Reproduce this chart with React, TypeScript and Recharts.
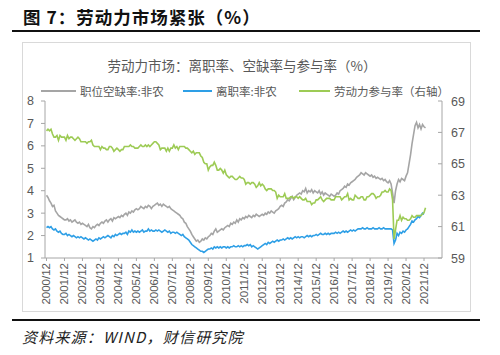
import React from 'react';
import { LineChart, Line, XAxis, YAxis } from 'recharts';

// Monthly series, first point = 2000/12
const vacancyRate = [
  3.8,
  3.7, 3.55, 3.45, 3.3, 3.35, 3.1, 3.0, 2.9, 2.85, 2.8, 2.75, 2.7,
  2.7, 2.75, 2.65, 2.7, 2.6, 2.65, 2.7, 2.6, 2.55, 2.6, 2.5, 2.55,
  2.5, 2.45, 2.4, 2.5, 2.35, 2.3, 2.4, 2.35, 2.45, 2.5, 2.45, 2.55,
  2.6, 2.55, 2.65, 2.7, 2.6, 2.7, 2.75, 2.65, 2.8, 2.75, 2.8, 2.85,
  2.8, 2.9, 2.85, 2.95, 3.0, 2.9, 3.05, 3.0, 3.1, 3.05, 3.15, 3.2,
  3.15, 3.2, 3.3, 3.25, 3.2, 3.3, 3.25, 3.35, 3.3, 3.2, 3.3, 3.35,
  3.4, 3.45, 3.35, 3.4, 3.3, 3.4, 3.35, 3.3, 3.25, 3.3, 3.2, 3.15,
  3.1, 3.05, 3.0, 2.95, 2.9, 2.8, 2.75, 2.6, 2.55, 2.4, 2.3, 2.2,
  2.05, 1.95, 1.85, 1.75, 1.8, 1.7, 1.75, 1.85, 1.8, 1.9, 1.85, 1.95,
  2.0, 2.1, 2.05, 2.2, 2.3, 2.15, 2.2, 2.25, 2.3, 2.25, 2.35, 2.4,
  2.45, 2.4, 2.55, 2.5, 2.6, 2.55, 2.7, 2.6, 2.75, 2.7, 2.8, 2.75,
  2.85, 2.8, 2.9, 2.85, 2.8, 2.9, 2.85, 2.95, 2.9, 2.85, 2.9, 2.95,
  2.9, 3.0, 2.95, 3.05, 3.0, 3.1, 3.05, 3.0, 3.1, 3.15, 3.2, 3.3,
  3.35, 3.3, 3.45, 3.5, 3.6, 3.55, 3.65, 3.75, 3.6, 3.7, 3.8, 3.85,
  3.9, 3.85, 4.0, 3.95, 4.1, 3.9, 4.0, 3.95, 4.05, 3.9, 4.0, 3.95,
  3.9, 4.0, 3.85, 3.95, 3.8, 3.9, 3.85, 3.8, 3.75, 3.85, 3.8, 3.75,
  3.8, 3.9, 3.85, 4.0, 4.05, 4.1, 4.2, 4.15, 4.3, 4.25, 4.35, 4.4,
  4.45, 4.5, 4.6, 4.65, 4.7, 4.8, 4.75, 4.7, 4.8, 4.75, 4.7, 4.65,
  4.7, 4.6, 4.65, 4.55, 4.6, 4.55, 4.5, 4.55, 4.45, 4.5, 4.4, 4.35,
  4.45, 4.3, 3.9, 3.45, 4.0, 4.3, 4.5, 4.4, 4.55, 4.5, 4.45, 4.65,
  4.8, 5.2, 5.6, 6.1, 6.5, 6.9, 7.05, 6.8, 6.95, 6.75, 6.95, 6.85,
  6.8,
];

const quitRate = [
  2.35,
  2.4, 2.35, 2.4, 2.3, 2.25, 2.3, 2.2, 2.15, 2.2, 2.1, 2.05, 2.05,
  2.1, 2.0, 2.05, 2.0, 1.95, 2.0, 1.95, 1.9, 1.95, 1.9, 1.95, 1.9,
  1.85, 1.9, 1.85, 1.8, 1.85, 1.8, 1.75, 1.8, 1.85, 1.8, 1.9, 1.85,
  1.9, 1.95, 1.9, 1.95, 2.0, 1.95, 1.9, 2.0, 1.95, 2.05, 2.0, 2.05,
  2.1, 2.05, 2.1, 2.1, 2.15, 2.05, 2.2, 2.15, 2.25, 2.15, 2.2, 2.15,
  2.2, 2.15, 2.2, 2.25, 2.15, 2.2, 2.2, 2.3, 2.2, 2.25, 2.2, 2.2,
  2.25, 2.2, 2.25, 2.2, 2.15, 2.2, 2.25, 2.2, 2.15, 2.2, 2.1, 2.15,
  2.15, 2.1, 2.15, 2.1, 2.05, 2.0, 2.05, 1.95, 1.9, 1.85, 1.8, 1.7,
  1.6, 1.55, 1.5, 1.45, 1.4, 1.35, 1.3, 1.3, 1.25, 1.3, 1.35, 1.4,
  1.4, 1.45, 1.4, 1.5, 1.45, 1.5, 1.45, 1.5, 1.45, 1.5, 1.5, 1.45,
  1.5, 1.45, 1.5, 1.5, 1.55, 1.5, 1.5, 1.55, 1.5, 1.55, 1.5, 1.55,
  1.55, 1.6, 1.55, 1.6, 1.5, 1.55, 1.5, 1.45, 1.4, 1.45, 1.5, 1.55,
  1.6, 1.65, 1.6, 1.7, 1.65, 1.7, 1.75, 1.7, 1.75, 1.8, 1.75, 1.8,
  1.8, 1.85, 1.8, 1.85, 1.9, 1.85, 1.9, 1.85, 1.9, 1.95, 1.9, 1.95,
  1.9, 1.95, 1.95, 1.9, 1.95, 2.0, 1.95, 2.0, 1.95, 2.0, 2.0, 2.05,
  2.0, 2.05, 2.1, 2.05, 2.05, 2.1, 2.05, 2.1, 2.05, 2.1, 2.1, 2.1,
  2.15, 2.1, 2.15, 2.1, 2.15, 2.2, 2.15, 2.2, 2.15, 2.2, 2.25, 2.2,
  2.25, 2.2, 2.25, 2.3, 2.3, 2.3, 2.35, 2.3, 2.3, 2.35, 2.3, 2.3,
  2.3, 2.35, 2.3, 2.3, 2.3, 2.35, 2.3, 2.3, 2.35, 2.3, 2.3, 2.3,
  2.3, 2.3, 2.25, 1.65, 1.8, 2.1, 2.0, 2.15, 2.1, 2.2, 2.15, 2.25,
  2.3, 2.4, 2.5, 2.65, 2.6, 2.7, 2.75, 2.85, 2.8, 2.9, 3.0, 2.95,
];

const participationRate = [
  67.1,
  67.2, 67.1, 67.2, 66.9, 66.7, 66.7, 66.8, 66.5, 66.8, 66.7, 66.7, 66.7,
  66.5, 66.8, 66.6, 66.7, 66.7, 66.6, 66.5, 66.6, 66.7, 66.6, 66.4, 66.4,
  66.4, 66.4, 66.3, 66.4, 66.4, 66.5, 66.2, 66.1, 66.1, 66.1, 66.1, 65.9,
  66.1, 66.0, 66.0, 65.9, 65.9, 66.1, 66.1, 66.0, 65.8, 65.9, 66.0, 65.9,
  65.8, 65.9, 65.9, 66.1, 66.1, 66.1, 66.1, 66.2, 66.1, 66.1, 66.0, 66.0,
  66.0, 66.1, 66.2, 66.1, 66.1, 66.2, 66.1, 66.2, 66.1, 66.2, 66.3, 66.4,
  66.4, 66.3, 66.2, 65.9, 66.0, 66.0, 66.0, 65.8, 66.0, 65.8, 66.0, 66.0,
  66.2, 66.0, 66.1, 65.9, 66.1, 66.1, 66.1, 66.1, 66.0, 66.0, 65.9, 65.8,
  65.7, 65.8, 65.6, 65.7, 65.7, 65.7, 65.5, 65.4, 65.1, 65.0, 65.0, 64.6,
  64.8, 64.9, 64.9, 65.1, 64.9, 64.6, 64.6, 64.7, 64.6, 64.4, 64.6, 64.3,
  64.2, 64.1, 64.2, 64.2, 64.1, 64.0, 64.0, 64.1, 64.2, 64.1, 64.1, 64.0,
  63.7, 63.8, 63.8, 63.7, 63.8, 63.8, 63.7, 63.5, 63.6, 63.8, 63.6, 63.7,
  63.6, 63.4, 63.3, 63.4, 63.4, 63.4, 63.3, 63.3, 63.2, 62.8, 63.0, 62.9,
  62.9, 62.9, 63.1, 62.8, 62.8, 62.8, 62.9, 62.9, 62.8, 62.9, 62.9, 62.8,
  62.9, 62.8, 62.7, 62.7, 62.8, 62.6, 62.6, 62.6, 62.4, 62.5, 62.5, 62.7,
  62.7, 62.8, 62.9, 62.7, 62.6, 62.7, 62.8, 62.8, 62.8, 62.7, 62.7, 62.7,
  62.9, 62.9, 62.9, 62.9, 62.7, 62.8, 62.9, 62.9, 63.1, 62.7, 62.8, 62.7,
  62.7, 63.0, 62.9, 62.8, 62.8, 62.9, 62.9, 62.7, 62.7, 62.9, 62.9, 63.0,
  63.1, 63.1, 63.0, 62.8, 62.9, 62.9, 63.0, 63.2, 63.2, 63.3, 63.2, 63.2,
  63.4, 63.3, 62.7, 60.2, 60.8, 61.4, 61.4, 61.7, 61.4, 61.6, 61.5, 61.5,
  61.4, 61.4, 61.5, 61.7, 61.6, 61.6, 61.7, 61.7, 61.7, 61.7, 61.8, 61.9,
  62.2,
];

const xTickLabels = [
  '2000/12', '2001/12', '2002/12', '2003/12', '2004/12', '2005/12', '2006/12',
  '2007/12', '2008/12', '2009/12', '2010/12', '2011/12', '2012/12', '2013/12',
  '2014/12', '2015/12', '2016/12', '2017/12', '2018/12', '2019/12', '2020/12', '2021/12',
];
const leftTicks = [1, 2, 3, 4, 5, 6, 7, 8];
const rightTicks = [59, 61, 63, 65, 67, 69];

const seriesNames = ['职位空缺率:非农', '离职率:非农', '劳动力参与率（右轴）'];
const colors = ['#a5a5a5', '#2e9fe6', '#9dcb55'];

const data = vacancyRate.map((v, i) => ({
  m: i,
  vac: v,
  quit: i < quitRate.length ? quitRate[i] : null,
  part: i < participationRate.length ? participationRate[i] : null,
}));
const xTicks = xTickLabels.map((_, k) => k * 12);

const AXIS = '#a6a6a6';
const TXT = '#595959';
const NUMFONT = '"Liberation Sans", Arial, sans-serif';
const CJK = '"Noto Sans CJK SC", sans-serif';

const XTick = (props: any) => {
  const { x, y, payload } = props;
  const label = xTickLabels[Math.round(payload.value / 12)] ?? '';
  return (
    <text
      transform={`translate(${x + 4},${y}) rotate(-90)`}
      textAnchor="end"
      fontSize={11.5}
      fontFamily={NUMFONT}
      fill={TXT}
    >
      {label}
    </text>
  );
};

const RightTick = (props: any) => {
  const { x, y, payload } = props;
  return (
    <g>
      <line x1={x - 13} x2={x - 9} y1={y} y2={y} stroke={AXIS} strokeWidth={1} />
      <text x={x} y={y} dy={4.5} textAnchor="start" fontSize={12.5} fontFamily={NUMFONT} fill={TXT}>
        {payload.value}
      </text>
    </g>
  );
};

const legendItems = [
  { line: 41, text: 80 },
  { line: 183, text: 216 },
  { line: 299, text: 334 },
];

export default function App() {
  return (
    <div
      style={{
        position: 'absolute',
        left: 0,
        top: 0,
        width: 500,
        height: 355,
        background: '#ffffff',
        overflow: 'hidden',
        fontFamily: CJK,
      }}
    >
      <div
        style={{
          position: 'absolute',
          left: 23,
          top: 5,
          fontSize: 17.5,
          fontWeight: 700,
          color: '#111',
          whiteSpace: 'nowrap',
          lineHeight: '24px',
          letterSpacing: 1,
        }}
      >
        图 7：劳动力市场紧张（%）
      </div>
      <div style={{ position: 'absolute', left: 12, top: 30, width: 468, height: 2, background: '#111' }} />
      <div
        style={{
          position: 'absolute',
          left: 22,
          top: 42,
          width: 447,
          height: 268,
          border: '1px solid #d9d9d9',
        }}
      />
      <div
        style={{
          position: 'absolute',
          left: 0,
          width: 484,
          top: 56,
          textAlign: 'center',
          fontSize: 13.5,
          color: TXT,
          whiteSpace: 'nowrap',
          lineHeight: '18px',
        }}
      >
        劳动力市场：离职率、空缺率与参与率（%）
      </div>
      {legendItems.map((it, k) => (
        <React.Fragment key={k}>
          <div
            style={{
              position: 'absolute',
              left: it.line,
              top: 90,
              width: it.text - it.line - 4,
              height: 2,
              background: colors[k],
            }}
          />
          <div
            style={{
              position: 'absolute',
              left: it.text,
              top: 83,
              fontSize: 11.5,
              color: TXT,
              whiteSpace: 'nowrap',
              lineHeight: '16px',
            }}
          >
            {seriesNames[k]}
          </div>
        </React.Fragment>
      ))}
      <div style={{ position: 'absolute', left: 0, top: 0 }}>
        <LineChart
          width={500}
          height={355}
          data={data}
          margin={{ top: 101, right: 28, bottom: 47, left: 10 }}
        >
          <XAxis
            dataKey="m"
            type="number"
            domain={[-1, 264]}
            ticks={xTicks}
            interval={0}
            allowDataOverflow
            height={50}
            stroke={AXIS}
            tickSize={3}
            tickMargin={2}
            tick={<XTick />}
          />
          <YAxis
            yAxisId="left"
            type="number"
            domain={[1, 8]}
            ticks={leftTicks}
            interval={0}
            allowDataOverflow
            width={35}
            stroke={AXIS}
            tickSize={4}
            tickMargin={7}
            tick={{ fontSize: 12.5, fill: TXT, fontFamily: NUMFONT }}
          />
          <YAxis
            yAxisId="right"
            orientation="right"
            type="number"
            domain={[59, 69]}
            ticks={rightTicks}
            interval={0}
            allowDataOverflow
            width={30}
            stroke={AXIS}
            tickLine={false}
            tickSize={0}
            tickMargin={9}
            tick={<RightTick />}
          />
          <Line
            yAxisId="left"
            dataKey="vac"
            stroke={colors[0]}
            strokeWidth={1.6}
            dot={false}
            isAnimationActive={false}
          />
          <Line
            yAxisId="left"
            dataKey="quit"
            stroke={colors[1]}
            strokeWidth={1.6}
            dot={false}
            isAnimationActive={false}
          />
          <Line
            yAxisId="right"
            dataKey="part"
            stroke={colors[2]}
            strokeWidth={1.6}
            dot={false}
            isAnimationActive={false}
          />
        </LineChart>
      </div>
      <div style={{ position: 'absolute', left: 12, top: 319, width: 468, height: 2, background: '#111' }} />
      <div
        style={{
          position: 'absolute',
          left: 22,
          top: 327,
          fontSize: 15,
          fontStyle: 'italic',
          color: '#222',
          whiteSpace: 'nowrap',
          lineHeight: '20px',
          letterSpacing: 1.2,
        }}
      >
        资料来源：WIND，财信研究院
      </div>
    </div>
  );
}
